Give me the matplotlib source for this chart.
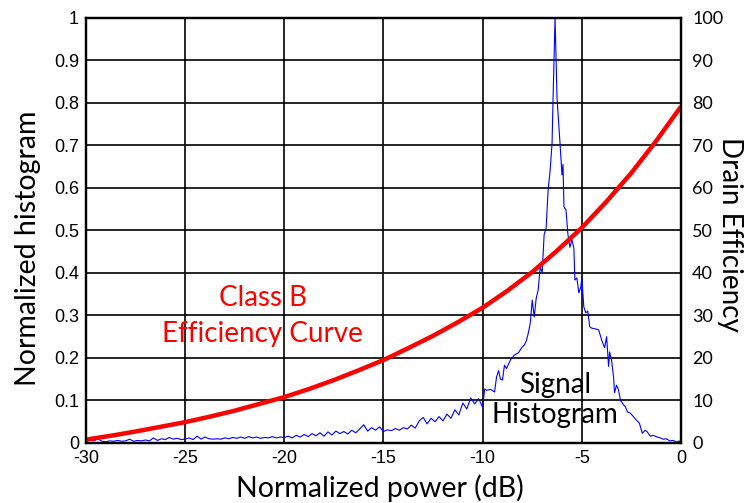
import numpy as np
import matplotlib
matplotlib.use('Agg')
import matplotlib.pyplot as plt

# signal histogram (normalized)
hist_db = [-30.0, -29.8, -29.6, -29.4, -29.2, -29.0, -28.8, -28.6, -28.4, -28.2,
           -28.0, -27.8, -27.6, -27.4, -27.2, -27.0, -26.8, -26.6, -26.4, -26.2,
           -26.0, -25.8, -25.6, -25.4, -25.2, -25.0, -24.8, -24.6, -24.4, -24.2,
           -24.0, -23.8, -23.6, -23.4, -23.2, -23.0, -22.8, -22.6, -22.4, -22.2,
           -22.0, -21.8, -21.6, -21.4, -21.2, -21.0, -20.8, -20.6, -20.4, -20.2,
           -20.0, -19.8, -19.6, -19.4, -19.2, -19.0, -18.8, -18.6, -18.4, -18.2,
           -18.0, -17.8, -17.6, -17.4, -17.2, -17.0, -16.8, -16.6, -16.4, -16.2,
           -16.0, -15.8, -15.6, -15.4, -15.2, -15.0, -14.8, -14.6, -14.4, -14.2,
           -14.0, -13.8, -13.6, -13.4, -13.2, -13.0, -12.8, -12.6, -12.4, -12.2,
           -12.0, -11.8, -11.6, -11.4, -11.2, -11.0, -10.8, -10.6, -10.4, -10.2,
           -10.0, -9.9, -9.8, -9.6, -9.4, -9.3, -9.2, -9.1, -9.0, -8.9,
           -8.8, -8.6, -8.4, -8.2, -8.0, -7.9, -7.8, -7.7, -7.6, -7.5,
           -7.4, -7.3, -7.2, -7.1, -7.0, -6.9, -6.8, -6.7, -6.6, -6.5,
           -6.45, -6.35, -6.25, -6.1, -6.0, -5.95, -5.9, -5.8, -5.7, -5.6,
           -5.5, -5.4, -5.35, -5.25, -5.15, -5.05, -5.0, -4.9, -4.8, -4.7,
           -4.6, -4.5, -4.3, -4.15, -4.0, -3.85, -3.75, -3.65, -3.6, -3.5,
           -3.4, -3.35, -3.25, -3.15, -3.05, -2.9, -2.8, -2.7, -2.55, -2.4,
           -2.25, -2.1, -1.95, -1.8, -1.7, -1.55, -1.4, -1.2, -1.05, -0.9,
           -0.75, -0.55, -0.4, -0.2, -0.1, 0.0]
hist_val = [0.004, 0.006, 0.005, 0.010, 0.004, 0.003, 0.005, 0.004, 0.006, 0.004,
            0.005, 0.009, 0.004, 0.006, 0.005, 0.007, 0.005, 0.012, 0.006, 0.010,
            0.008, 0.013, 0.009, 0.011, 0.008, 0.009, 0.012, 0.008, 0.016, 0.009,
            0.014, 0.010, 0.009, 0.010, 0.009, 0.012, 0.010, 0.013, 0.011, 0.014,
            0.011, 0.015, 0.012, 0.014, 0.011, 0.013, 0.012, 0.015, 0.012, 0.014,
            0.013, 0.016, 0.012, 0.018, 0.014, 0.020, 0.015, 0.022, 0.017, 0.024,
            0.016, 0.026, 0.019, 0.028, 0.022, 0.027, 0.021, 0.030, 0.024, 0.033,
            0.043, 0.028, 0.036, 0.030, 0.038, 0.027, 0.031, 0.029, 0.034, 0.030,
            0.036, 0.033, 0.042, 0.035, 0.052, 0.060, 0.045, 0.058, 0.050, 0.062,
            0.052, 0.068, 0.058, 0.078, 0.066, 0.094, 0.080, 0.106, 0.092, 0.104,
            0.084, 0.127, 0.124, 0.126, 0.120, 0.155, 0.170, 0.150, 0.148, 0.183,
            0.175, 0.195, 0.207, 0.212, 0.226, 0.230, 0.240, 0.258, 0.282, 0.336,
            0.296, 0.340, 0.360, 0.414, 0.400, 0.490, 0.505, 0.595, 0.640, 0.705,
            0.810, 1.000, 0.810, 0.705, 0.630, 0.655, 0.555, 0.548, 0.490, 0.460,
            0.478, 0.458, 0.383, 0.388, 0.353, 0.367, 0.390, 0.320, 0.306, 0.310,
            0.273, 0.270, 0.268, 0.266, 0.242, 0.224, 0.250, 0.180, 0.214, 0.195,
            0.155, 0.118, 0.136, 0.125, 0.100, 0.090, 0.085, 0.073, 0.070, 0.062,
            0.054, 0.047, 0.023, 0.030, 0.026, 0.016, 0.018, 0.014, 0.012, 0.009,
            0.010, 0.005, 0.006, 0.002, 0.005, 0.002]

# class B drain efficiency curve (%)
eff_db = [-30, -28.75, -27.5, -26.25, -25, -23.75, -22.5, -21.25, -20, -18.75,
          -17.5, -16.25, -15, -13.75, -12.5, -11.25, -10, -8.75, -7.5, -6.25,
          -5, -3.75, -2.5, -1.25, 0]
eff_val = [0.8, 1.7, 2.7, 3.8, 4.9, 6.2, 7.6, 9.2, 10.8, 12.7,
           14.8, 17.1, 19.5, 22.3, 25.2, 28.4, 31.8, 35.8, 40.2, 45.2,
           50.6, 56.8, 63.5, 71.0, 79.1]

x_ticks = [-30, -25, -20, -15, -10, -5, 0]
left_ticks = [0, 0.1, 0.2, 0.3, 0.4, 0.5, 0.6, 0.7, 0.8, 0.9, 1]
left_labels = ['0', '0.1', '0.2', '0.3', '0.4', '0.5', '0.6', '0.7', '0.8', '0.9', '1']
right_ticks = [0, 10, 20, 30, 40, 50, 60, 70, 80, 90, 100]

arial = 'Liberation Sans'
calibri = 'Lato'

fig = plt.figure(figsize=(7.48, 5.03), dpi=100)
ax = fig.add_axes([0.115, 0.1193, 0.7954, 0.8457])
ax2 = ax.twinx()

ax.plot(hist_db, hist_val, color='#0000ff', lw=0.8, zorder=3)
ax2.plot(eff_db, eff_val, color='#ff0000', lw=3.2, solid_capstyle='butt',
         solid_joinstyle='round')

ax.set_xlim(-30, 0)
ax.set_ylim(0, 1)
ax2.set_ylim(0, 100)

ax.set_xticks(x_ticks)
ax.set_xticklabels([str(t) for t in x_ticks], fontname=arial, fontsize=13)
ax.set_yticks(left_ticks)
ax.set_yticklabels(left_labels, fontname=arial, fontsize=13)
ax2.set_yticks(right_ticks)
ax2.set_yticklabels([str(t) for t in right_ticks], fontname=calibri, fontsize=13)

ax.tick_params(axis='both', length=0, pad=5)
ax2.tick_params(axis='y', length=0, pad=8)

ax.set_axisbelow(True)
ax.grid(True, color='black', lw=1.2)
for a in (ax, ax2):
    for s in a.spines.values():
        s.set_color('black')
        s.set_linewidth(1.6)

ax.set_xlabel('Normalized power (dB)', fontname=calibri, fontsize=20.5, va='center')
ax.xaxis.set_label_coords(0.494, -0.106)
ax.set_ylabel('Normalized histogram', fontname=calibri, fontsize=20.5, va='center')
ax.yaxis.set_label_coords(-0.097, 0.458)
ax2.set_ylabel('Drain Efficiency', fontname=calibri, fontsize=20, rotation=270,
               va='center')
ax2.yaxis.set_label_coords(1.082, 0.49)

ax.text(-21.1, 0.341, 'Class B', color='#ff0000', fontname=calibri, fontsize=20,
        ha='center', va='center')
ax.text(-21.1, 0.256, 'Efficiency Curve', color='#ff0000', fontname=calibri,
        fontsize=20, ha='center', va='center')
ax.text(-6.35, 0.137, 'Signal', color='black', fontname=calibri, fontsize=20,
        ha='center', va='center')
ax.text(-6.35, 0.065, 'Histogram', color='black', fontname=calibri, fontsize=20,
        ha='center', va='center')

fig.savefig('out.png', dpi=100)
